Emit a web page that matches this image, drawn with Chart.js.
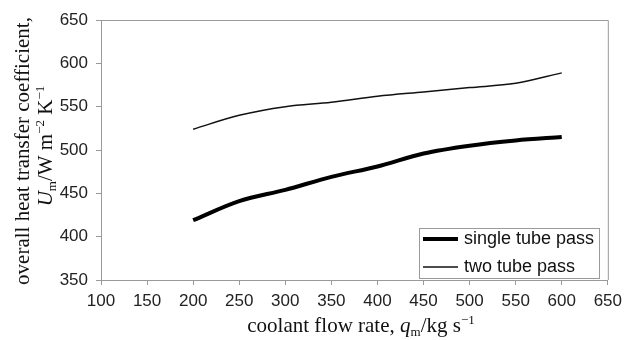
<!doctype html>
<html lang="en">
<head>
  <meta charset="utf-8">
  <title>overall heat transfer coefficient</title>
  <style>
    html, body { margin: 0; padding: 0; background: #ffffff; }
    #wrap { width: 628px; height: 340px; }
  </style>
</head>
<body>
  <div id="wrap"><canvas id="uGraph"></canvas></div>

  <script src="https://cdn.jsdelivr.net/npm/chart.js@4.4.0/dist/chart.umd.min.js"></script>
  <script>
    // values
    var flowRate   = [200, 250, 300, 350, 400, 450, 500, 550, 600];
    var singlePass = [419, 441, 454, 469, 481, 496, 505, 511, 515];
    var twoPass    = [524, 540, 550, 555, 562, 567, 572, 577, 589];
    var seriesNames = ['single tube pass', 'two tube pass'];

    var serif = '"Liberation Serif", "Times New Roman", serif';
    var sans = '"Liberation Sans", Arial, sans-serif';

    function toPoints(ys) {
      return flowRate.map(function(x, i) { return {x: x, y: ys[i]}; });
    }

    // draws a line of text made of pieces (italic / subscript / superscript)
    function drawRich(ctx, parts, cx, cy, size) {
      var total = 0;
      parts.forEach(function(p) {
        var s = (p.sub || p.sup) ? size * 0.62 : size;
        ctx.font = (p.it ? 'italic ' : '') + s + 'px ' + serif;
        p.w = ctx.measureText(p.t).width;
        p.s = s;
        total += p.w;
      });
      var x = cx - total / 2;
      ctx.textAlign = 'left';
      ctx.textBaseline = 'alphabetic';
      parts.forEach(function(p) {
        ctx.font = (p.it ? 'italic ' : '') + p.s + 'px ' + serif;
        var dy = p.sub ? size * 0.2 : (p.sup ? -size * 0.38 : 0);
        ctx.fillText(p.t, x, cy + dy);
        x += p.w;
      });
    }

    var extras = {
      id: 'extras',
      afterDraw: function(chart) {
        var ctx = chart.ctx;
        var a = chart.chartArea;
        ctx.save();

        // frame on top and right
        ctx.strokeStyle = '#9a9a9a';
        ctx.lineWidth = 1;
        ctx.beginPath();
        ctx.moveTo(a.left, a.top + 0.5);
        ctx.lineTo(a.right + 0.5, a.top + 0.5);
        ctx.lineTo(a.right + 0.5, a.bottom);
        ctx.stroke();

        // legend box
        var lx = 419, ly = 228, lw = 180, lh = 50;
        ctx.fillStyle = '#ffffff';
        ctx.fillRect(lx, ly, lw, lh);
        ctx.strokeStyle = '#9a9a9a';
        ctx.strokeRect(lx + 0.5, ly + 0.5, lw, lh);
        chart.data.datasets.forEach(function(ds, i) {
          var yy = ly + 11 + i * 28;
          ctx.strokeStyle = ds.borderColor;
          ctx.lineWidth = ds.borderWidth;
          ctx.beginPath();
          ctx.moveTo(lx + 4, yy);
          ctx.lineTo(lx + 39, yy);
          ctx.stroke();
          ctx.fillStyle = '#111111';
          ctx.font = '18px ' + sans;
          ctx.textAlign = 'left';
          ctx.textBaseline = 'middle';
          ctx.fillText(ds.label, lx + 45, yy);
        });

        // axis titles
        ctx.fillStyle = '#111111';
        drawRich(ctx, [
          {t: 'coolant flow rate, '},
          {t: 'q', it: true},
          {t: 'm', sub: true},
          {t: '/kg s'},
          {t: '\u22121', sup: true}
        ], 361, 332, 21);

        ctx.save();
        ctx.translate(29, 151);
        ctx.rotate(-Math.PI / 2);
        drawRich(ctx, [{t: 'overall heat transfer coefficient,'}], 0, 0, 21);
        ctx.restore();
        ctx.save();
        ctx.translate(52, 146);
        ctx.rotate(-Math.PI / 2);
        drawRich(ctx, [
          {t: 'U', it: true},
          {t: 'm', sub: true},
          {t: '/W m'},
          {t: '\u22122', sup: true},
          {t: ' K'},
          {t: '\u22121', sup: true}
        ], 0, 0, 21);
        ctx.restore();

        ctx.restore();
      }
    };

    var config = {
      type: 'line',
      data: {
        datasets: [{
          label: seriesNames[0],
          data: toPoints(singlePass),
          borderColor: '#000000',
          borderWidth: 4,
          pointRadius: 0,
          cubicInterpolationMode: 'monotone'
        }, {
          label: seriesNames[1],
          data: toPoints(twoPass),
          borderColor: '#111111',
          borderWidth: 1.5,
          pointRadius: 0,
          cubicInterpolationMode: 'monotone'
        }]
      },
      options: {
        responsive: true,
        maintainAspectRatio: false,
        animation: false,
        layout: { padding: { left: 0, top: 20, right: 16, bottom: 0 } },
        plugins: {
          legend: { display: false },
          tooltip: { enabled: false }
        },
        scales: {
          x: {
            type: 'linear',
            min: 100,
            max: 650,
            afterFit: function(s) { s.height = 60; },
            border: { color: '#9a9a9a' },
            grid: { drawOnChartArea: false, tickLength: 5, color: '#9a9a9a' },
            ticks: { stepSize: 50, padding: 6, color: '#222222', font: { family: sans, size: 17 } }
          },
          y: {
            min: 350,
            max: 650,
            afterFit: function(s) { s.width = 101; },
            border: { color: '#9a9a9a' },
            grid: { drawOnChartArea: false, tickLength: 5, color: '#9a9a9a' },
            ticks: { stepSize: 50, padding: 8, color: '#222222', font: { family: sans, size: 17 } }
          }
        }
      },
      plugins: [extras]
    };

    var renderGraph = new Chart(document.getElementById('uGraph'), config);
  </script>
</body>
</html>
